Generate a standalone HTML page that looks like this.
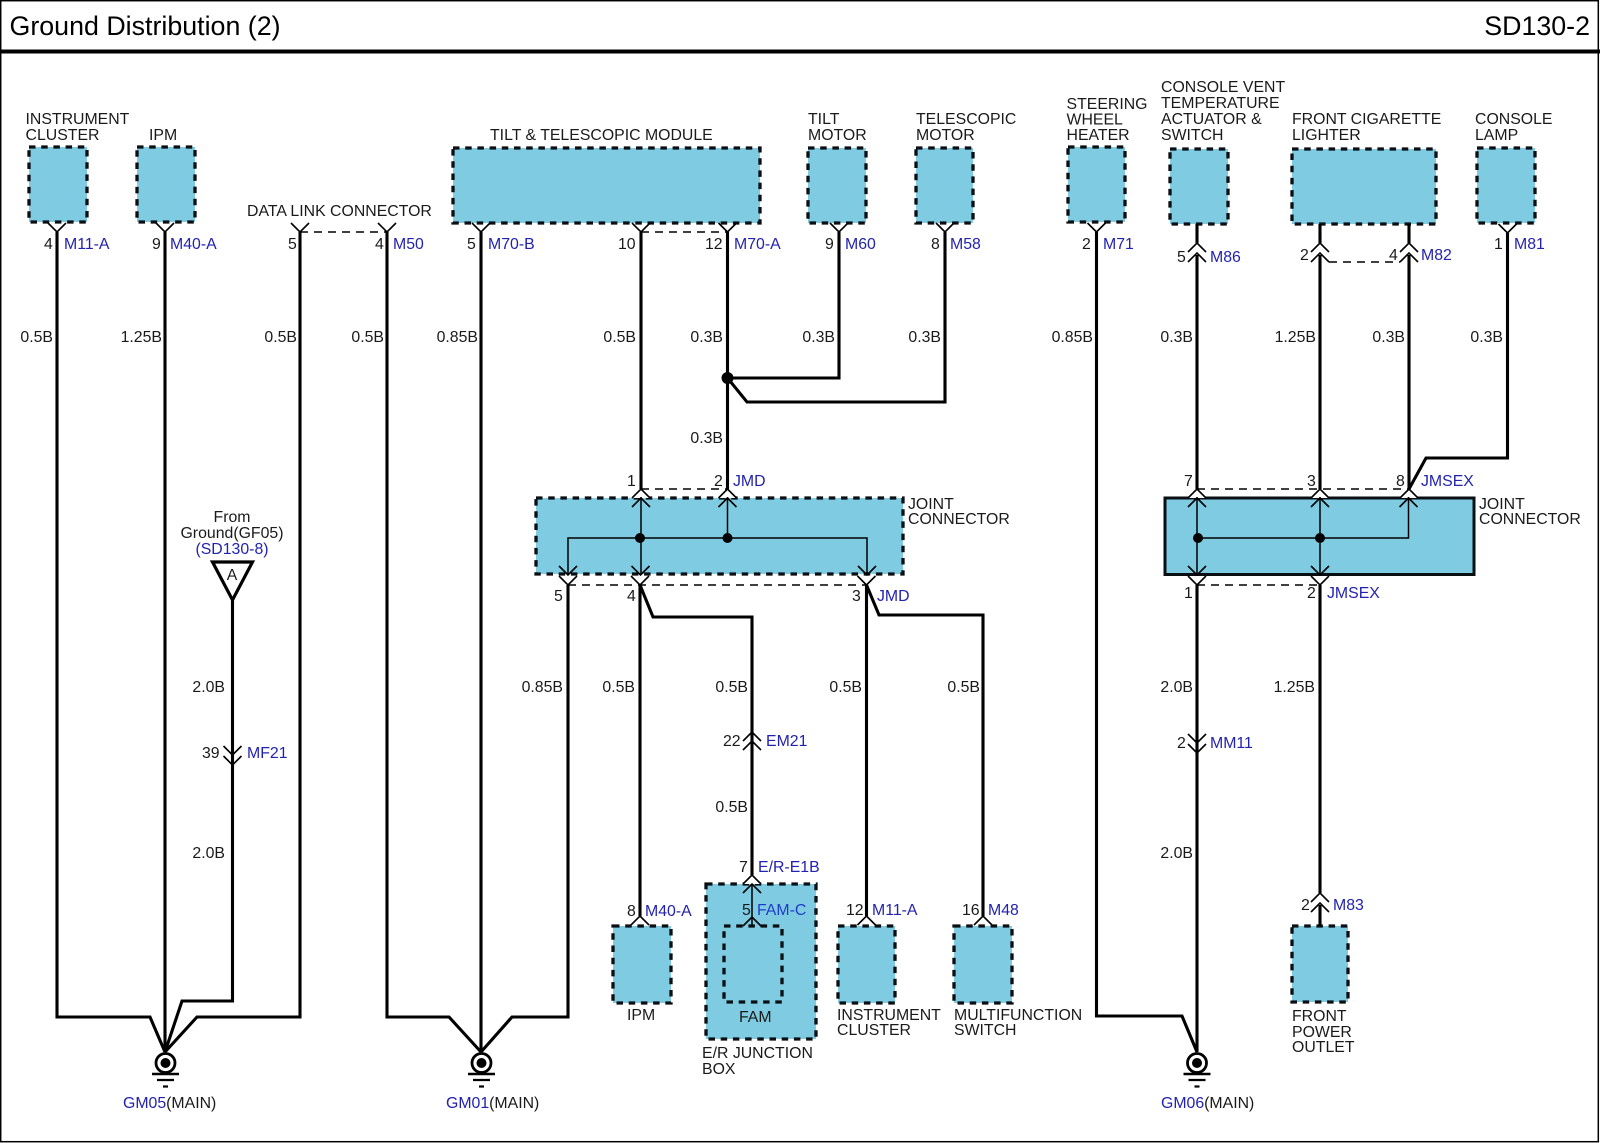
<!DOCTYPE html>
<html><head><meta charset="utf-8"><style>
html,body{margin:0;padding:0;background:#fff}
svg{display:block}
text{font-family:"Liberation Sans",Arial,sans-serif;font-size:15.85px;fill:#1a1a1a}
.b{fill:#2222b0}
.e{text-anchor:end}
.c{text-anchor:middle}
.t{font-size:26.8px;fill:#000}
.w{fill:none;stroke:#000;stroke-width:3.1;stroke-linejoin:miter}
.n{fill:none;stroke:#000;stroke-width:1.5}
.d{fill:none;stroke:#000;stroke-width:1.4;stroke-dasharray:8 6}
.box{fill:#7fcce2;stroke:#0a0f14;stroke-width:3.3;stroke-dasharray:6.500 5.700}
</style></head><body>
<svg width="1600" height="1143" viewBox="0 0 1600 1143" xmlns="http://www.w3.org/2000/svg">
<defs>
<polyline id="dn" points="-9,-9 0,0 9,-9" fill="none" stroke="#000" stroke-width="1.6"/>
<polyline id="up" points="-9,9 0,0 9,9" fill="none" stroke="#000" stroke-width="1.6"/>
<polygon id="dnw" points="-9,-9 0,0 9,-9" fill="#fff"/>
<polygon id="upw" points="-9,9 0,0 9,9" fill="#fff"/>
<g id="gnd">
<circle cx="0" cy="0" r="9.500" fill="#fff" stroke="#000" stroke-width="2.800"/>
<circle cx="0" cy="0" r="5" fill="#000"/>
<path d="M-13.500 11H13.500" stroke="#000" stroke-width="2.600"/>
<path d="M-8.500 17H8.500" stroke="#000" stroke-width="2.200"/>
<path d="M-2.500 23.500H2.500" stroke="#000" stroke-width="2.200"/>
</g>
</defs>
<rect width="1600" height="1143" fill="#fff"/>
<rect x="0.700" y="0.700" width="1597.600" height="1141" fill="none" stroke="#000" stroke-width="1.5"/>
<rect x="0" y="49.500" width="1600" height="4" fill="#000"/>
<text class="t" x="9.500" y="35">Ground Distribution (2)</text>
<text class="t e" x="1590" y="35">SD130-2</text>

<!-- boxes -->
<rect class="box" x="29" y="147" width="58" height="75"/>
<rect class="box" x="137" y="147" width="58" height="75"/>
<rect class="box" x="453" y="148" width="307" height="75"/>
<rect class="box" x="808" y="148" width="58" height="75"/>
<rect class="box" x="916" y="148" width="57" height="75"/>
<rect class="box" x="1068" y="147" width="57" height="75"/>
<rect class="box" x="1170" y="149" width="58" height="75"/>
<rect class="box" x="1292" y="149" width="144" height="75"/>
<rect class="box" x="1477" y="148" width="58" height="75"/>
<rect class="box" x="536" y="498" width="367" height="76"/>
<rect x="1165" y="498" width="309" height="76.500" fill="#7fcce2" stroke="#0a0f14" stroke-width="3"/>
<rect class="box" x="613" y="926" width="58" height="77"/>
<rect class="box" x="706" y="884" width="110" height="155"/>
<rect class="box" x="724" y="926" width="58" height="76"/>
<rect class="box" x="838" y="926" width="57" height="77"/>
<rect class="box" x="954" y="926" width="58" height="77"/>
<rect class="box" x="1292" y="926" width="56" height="76"/>

<!-- main wires -->
<polyline class="w" points="57,232 57,1017 150,1017 165,1052"/>
<polyline class="w" points="165,232 165,1052"/>
<polyline class="w" points="232.500,600 232.500,1001 182,1001 165,1052"/>
<polyline class="w" points="300,232 300,1017 197,1017 165,1052"/>
<polyline class="w" points="387,232 387,1017 449,1017 481,1052"/>
<polyline class="w" points="481,232 481,1052"/>
<polyline class="w" points="568,585 568,1017 512,1017 481,1052"/>
<polyline class="w" points="641,232 641,489"/>
<polyline class="w" points="727.500,232 727.500,489"/>
<polyline class="w" points="727.500,378 839,378 839,232"/>
<polyline class="w" points="727.500,378 747,402 945,402 945,232"/>
<polyline class="w" points="640,585 640,916"/>
<polyline class="w" points="640,585 653,617 752,617 752,875"/>
<polyline class="w" points="866.500,585 866.500,916"/>
<polyline class="w" points="866.500,585 879,615 983,615 983,916"/>
<polyline class="w" points="1096.500,232 1096.500,1016 1182,1016 1197,1052"/>
<polyline class="w" points="1197,224 1197,243"/>
<polyline class="w" points="1197,255 1197,489"/>
<polyline class="w" points="1320,224 1320,243"/>
<polyline class="w" points="1320,255 1320,489"/>
<polyline class="w" points="1409,224 1409,243"/>
<polyline class="w" points="1409,255 1409,489"/>
<polyline class="w" points="1507.500,233 1507.500,458 1426,458 1409,489"/>
<polyline class="w" points="1197,585 1197,1052"/>
<polyline class="w" points="1320,585 1320,893"/>
<polyline class="w" points="1320,905 1320,926"/>

<!-- dashed connector ties -->
<line class="d" x1="300" y1="232" x2="387" y2="232"/>
<line class="d" x1="641" y1="232" x2="727" y2="232"/>
<line class="d" x1="641" y1="489" x2="727" y2="489"/>
<line class="d" x1="568" y1="585" x2="866" y2="585"/>
<line class="d" x1="1197" y1="489" x2="1409" y2="489"/>
<line class="d" x1="1197" y1="585" x2="1320" y2="585"/>
<line class="d" x1="1329" y1="262" x2="1400" y2="262"/>

<!-- top connector Vs -->
<use href="#dn" x="57" y="232"/><use href="#dn" x="165" y="232"/><use href="#dn" x="300" y="232"/><use href="#dn" x="387" y="232"/>
<use href="#dn" x="481" y="232"/><use href="#dn" x="641" y="232"/><use href="#dn" x="727.500" y="232"/><use href="#dn" x="839" y="232"/><use href="#dn" x="945" y="232"/>
<use href="#dn" x="1096.500" y="232"/><use href="#dn" x="1507.500" y="233"/>
<!-- inline double chevrons -->
<use href="#up" x="1197" y="243"/><use href="#up" x="1197" y="253"/>
<use href="#up" x="1320" y="243"/><use href="#up" x="1320" y="253"/>
<use href="#up" x="1409" y="243"/><use href="#up" x="1409" y="253"/>
<use href="#dn" x="232.500" y="755"/><use href="#dn" x="232.500" y="765"/>
<use href="#up" x="752" y="732"/><use href="#up" x="752" y="741"/>
<use href="#dn" x="1197" y="743"/><use href="#dn" x="1197" y="753"/>
<use href="#up" x="1320" y="893"/><use href="#up" x="1320" y="903"/>
<use href="#up" x="640" y="916"/><use href="#up" x="866.500" y="916"/><use href="#up" x="983" y="916"/>

<!-- joint connector outer chevrons -->
<use href="#upw" x="641" y="489"/><use href="#up" x="641" y="489"/>
<use href="#upw" x="727.500" y="489"/><use href="#up" x="727.500" y="489"/>
<use href="#dnw" x="568" y="585"/><use href="#dn" x="568" y="585"/>
<use href="#dnw" x="640" y="585"/><use href="#dn" x="640" y="585"/>
<use href="#dnw" x="866.500" y="585"/><use href="#dn" x="866.500" y="585"/>
<use href="#upw" x="1197" y="489"/><use href="#up" x="1197" y="489"/>
<use href="#upw" x="1320" y="489"/><use href="#up" x="1320" y="489"/>
<use href="#upw" x="1409" y="489"/><use href="#up" x="1409" y="489"/>
<use href="#dnw" x="1197" y="585"/><use href="#dn" x="1197" y="585"/>
<use href="#dnw" x="1320" y="585"/><use href="#dn" x="1320" y="585"/>

<!-- JMD internals -->
<path class="n" d="M641 497V575M727.500 497V538M568 574V538H867V574"/>
<use href="#up" x="641" y="498"/><use href="#up" x="727.500" y="498"/>
<use href="#dn" x="568" y="575"/><use href="#dn" x="640.500" y="575"/><use href="#dn" x="867" y="575"/>
<circle cx="640" cy="538" r="5"/><circle cx="727.500" cy="538" r="5"/>
<!-- JMSEX internals -->
<path class="n" d="M1197 497V575M1320 497V575M1408.500 497V538H1197"/>
<use href="#up" x="1197" y="498"/><use href="#up" x="1320" y="498"/><use href="#up" x="1408.500" y="498"/>
<use href="#dn" x="1197" y="575"/><use href="#dn" x="1320" y="575"/>
<circle cx="1198" cy="538" r="5"/><circle cx="1320" cy="538" r="5"/>
<circle cx="727.500" cy="378" r="6"/>
<!-- E/R junction internals -->
<path class="n" d="M752 884V926"/>
<use href="#upw" x="752" y="875"/><use href="#up" x="752" y="875"/>
<use href="#up" x="752" y="884"/><use href="#up" x="752" y="917"/>

<!-- triangle -->
<polygon points="212.500,562 252.500,562 232.500,600" fill="#fff" stroke="#000" stroke-width="3.200"/>
<text class="c" x="232" y="580">A</text>

<!-- grounds -->
<use href="#gnd" x="165.500" y="1063"/><use href="#gnd" x="481.500" y="1063"/><use href="#gnd" x="1197" y="1063"/>

<!-- component labels -->
<text x="25.500" y="124">INSTRUMENT</text><text x="25.500" y="140">CLUSTER</text>
<text x="149" y="140">IPM</text>
<text x="247" y="216">DATA LINK CONNECTOR</text>
<text x="490" y="140">TILT &amp; TELESCOPIC MODULE</text>
<text x="808" y="124">TILT</text><text x="808" y="140">MOTOR</text>
<text x="916" y="124">TELESCOPIC</text><text x="916" y="140">MOTOR</text>
<text x="1066.500" y="109">STEERING</text><text x="1066.500" y="124.500">WHEEL</text><text x="1066.500" y="140">HEATER</text>
<text x="1161" y="92">CONSOLE VENT</text><text x="1161" y="108">TEMPERATURE</text><text x="1161" y="124">ACTUATOR &amp;</text><text x="1161" y="140">SWITCH</text>
<text x="1292" y="124">FRONT CIGARETTE</text><text x="1292" y="140">LIGHTER</text>
<text x="1475" y="124">CONSOLE</text><text x="1475" y="140">LAMP</text>
<text x="908" y="509">JOINT</text><text x="908" y="524">CONNECTOR</text>
<text x="1479" y="509">JOINT</text><text x="1479" y="524">CONNECTOR</text>
<text class="c" x="232" y="522">From</text><text class="c" x="232" y="538">Ground(GF05)</text>
<text class="b c" x="232" y="554">(SD130-8)</text>
<text x="627" y="1020">IPM</text>
<text x="739" y="1022">FAM</text>
<text x="702" y="1058">E/R JUNCTION</text><text x="702" y="1074">BOX</text>
<text x="837" y="1020">INSTRUMENT</text><text x="837" y="1035">CLUSTER</text>
<text x="954" y="1020">MULTIFUNCTION</text><text x="954" y="1035">SWITCH</text>
<text x="1292" y="1021">FRONT</text><text x="1292" y="1037">POWER</text><text x="1292" y="1052">OUTLET</text>

<!-- pins and connector ids -->
<text x="44" y="249">4</text><text class="b" x="64" y="249">M11-A</text>
<text x="152" y="249">9</text><text class="b" x="170" y="249">M40-A</text>
<text x="288" y="249">5</text>
<text x="375" y="249">4</text><text class="b" x="393" y="249">M50</text>
<text x="467" y="249">5</text><text class="b" x="488" y="249">M70-B</text>
<text x="618" y="249">10</text>
<text x="705" y="249">12</text><text class="b" x="734" y="249">M70-A</text>
<text x="825" y="249">9</text><text class="b" x="845" y="249">M60</text>
<text x="931" y="249">8</text><text class="b" x="950" y="249">M58</text>
<text x="1082" y="249">2</text><text class="b" x="1103" y="249">M71</text>
<text x="1177" y="262">5</text><text class="b" x="1210" y="262">M86</text>
<text x="1300" y="260">2</text>
<text x="1389" y="260">4</text><text class="b" x="1421" y="260">M82</text>
<text x="1494" y="249">1</text><text class="b" x="1514" y="249">M81</text>
<text x="627" y="486">1</text>
<text x="714" y="486">2</text><text class="b" x="733" y="486">JMD</text>
<text x="554" y="601">5</text><text x="627" y="601">4</text><text x="852" y="601">3</text><text class="b" x="877" y="601">JMD</text>
<text x="1184" y="486">7</text><text x="1307" y="486">3</text><text x="1396" y="486">8</text><text class="b" x="1421" y="486">JMSEX</text>
<text x="1184" y="598">1</text><text x="1307" y="598">2</text><text class="b" x="1327" y="598">JMSEX</text>
<text x="202" y="758">39</text><text class="b" x="247" y="758">MF21</text>
<text x="723" y="746">22</text><text class="b" x="766" y="746">EM21</text>
<text x="1177" y="748">2</text><text class="b" x="1210" y="748">MM11</text>
<text x="739" y="872">7</text><text class="b" x="758" y="872">E/R-E1B</text>
<text x="742" y="915">5</text><text x="757" y="915" style="fill:#1f3cc8">FAM-C</text>
<text x="627" y="916">8</text><text class="b" x="645" y="916">M40-A</text>
<text x="846" y="915">12</text><text class="b" x="872" y="915">M11-A</text>
<text x="962" y="915">16</text><text class="b" x="988" y="915">M48</text>
<text x="1301" y="910">2</text><text class="b" x="1333" y="910">M83</text>

<!-- wire gauge labels -->
<text class="e" x="53" y="342">0.5B</text>
<text class="e" x="162" y="342">1.25B</text>
<text class="e" x="297" y="342">0.5B</text>
<text class="e" x="384" y="342">0.5B</text>
<text class="e" x="478" y="342">0.85B</text>
<text class="e" x="636" y="342">0.5B</text>
<text class="e" x="723" y="342">0.3B</text>
<text class="e" x="835" y="342">0.3B</text>
<text class="e" x="941" y="342">0.3B</text>
<text class="e" x="1093" y="342">0.85B</text>
<text class="e" x="1193" y="342">0.3B</text>
<text class="e" x="1316" y="342">1.25B</text>
<text class="e" x="1405" y="342">0.3B</text>
<text class="e" x="1503" y="342">0.3B</text>
<text class="e" x="723" y="443">0.3B</text>
<text class="e" x="225" y="692">2.0B</text>
<text class="e" x="225" y="858">2.0B</text>
<text class="e" x="563" y="692">0.85B</text>
<text class="e" x="635" y="692">0.5B</text>
<text class="e" x="748" y="692">0.5B</text>
<text class="e" x="862" y="692">0.5B</text>
<text class="e" x="980" y="692">0.5B</text>
<text class="e" x="748" y="812">0.5B</text>
<text class="e" x="1193" y="692">2.0B</text>
<text class="e" x="1193" y="858">2.0B</text>
<text class="e" x="1315" y="692">1.25B</text>

<!-- ground labels -->
<text x="123" y="1108"><tspan class="b">GM05</tspan>(MAIN)</text>
<text x="446" y="1108"><tspan class="b">GM01</tspan>(MAIN)</text>
<text x="1161" y="1108"><tspan class="b">GM06</tspan>(MAIN)</text>
</svg>
</body></html>
